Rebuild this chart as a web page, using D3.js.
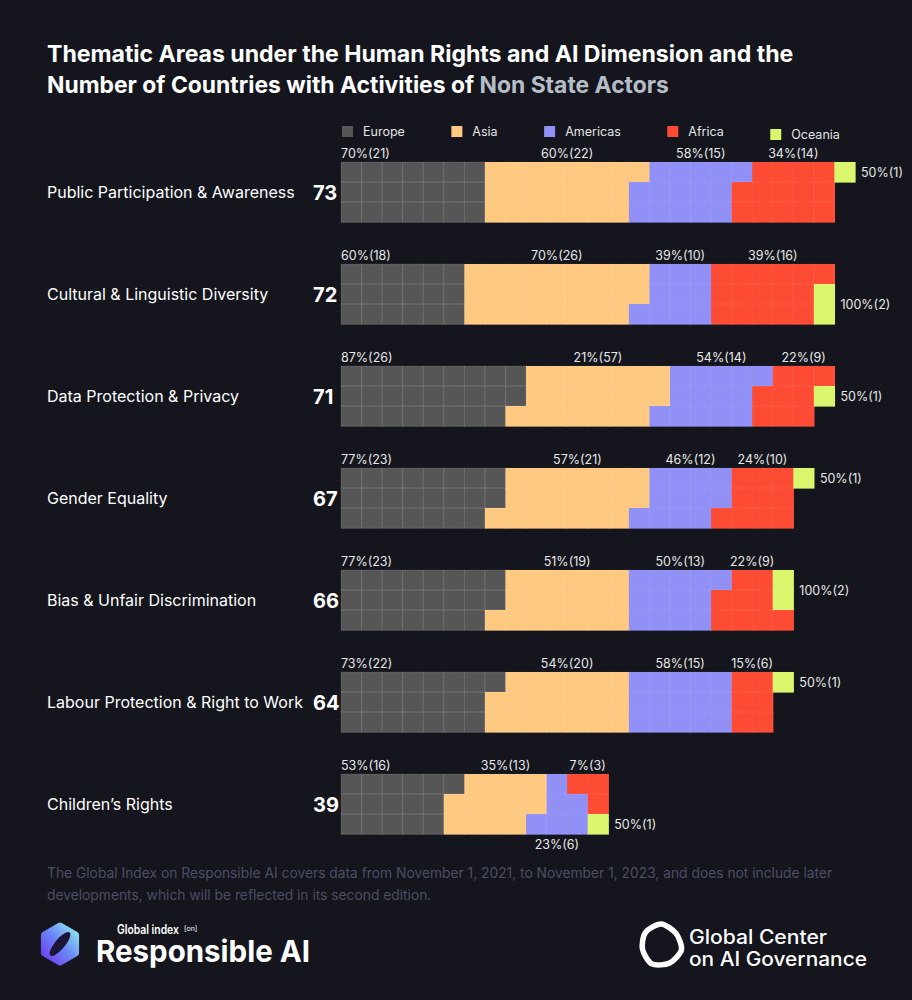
<!DOCTYPE html>
<html>
<head>
<meta charset="utf-8">
<script src="https://cdn.jsdelivr.net/npm/d3@7"></script>
<style>
  html, body { margin: 0; padding: 0; background: #14151d; }
  svg { display: block; font-family: Inter, "Noto Sans", sans-serif; }
</style>
</head>
<body>
<div id="chart"></div>
<script>
// Thematic areas (one waffle bar each) and the total number of countries
const themes = [
    "Public Participation & Awareness",
    "Cultural & Linguistic Diversity",
    "Data Protection & Privacy",
    "Gender Equality",
    "Bias & Unfair Discrimination",
    "Labour Protection & Right to Work",
    "Children’s Rights"
];
const totals = [73, 72, 71, 67, 66, 64, 39];

const regions = ["Europe", "Asia", "Americas", "Africa", "Oceania"];
const regionColors = ["#565656", "#ffc982", "#9090f6", "#fd4b34", "#d9f66d"];

// Number of countries per region, in theme order
const europe   = [21, 18, 26, 23, 23, 22, 16];
const asia     = [22, 26, 21, 21, 19, 20, 13];
const americas = [15, 10, 14, 12, 13, 15, 6];
const africa   = [14, 16, 9, 10, 9, 6, 3];
const oceania  = [1, 2, 1, 1, 2, 1, 1];

// Share of the region's countries, in theme order
const europePct   = [70, 60, 87, 77, 77, 73, 53];
const asiaPct     = [60, 70, 57, 57, 51, 54, 35];
const americasPct = [58, 39, 54, 46, 50, 58, 23];
const africaPct   = [34, 39, 22, 24, 22, 15, 7];
const oceaniaPct  = [50, 100, 50, 50, 100, 50, 50];

const counts = [europe, asia, americas, africa, oceania];
const pcts = [europePct, asiaPct, americasPct, africaPct, oceaniaPct];

// the label is printed this way in the original
const labelOverrides = [
    { theme: "Data Protection & Privacy", region: "Asia", text: "21%(57)" }
];

// columns where the original orders the cells differently (top to bottom)
const columnFixes = [
    { theme: "Bias & Unfair Discrimination", col: 21, order: ["Oceania", "Oceania", "Africa"] },
    { theme: "Children’s Rights", col: 11, order: ["Africa", "Americas", "Americas"] }
];

const maxColumns = 25;
const cellRows = 3;

const width = 912;
const height = 1000;

const svg = d3.select("#chart").append("svg")
    .attr("width", width)
    .attr("height", height)
    .attr("viewBox", [0, 0, width, height]);

svg.append("rect").attr("width", width).attr("height", height).attr("fill", "#14151d");

// squeeze a text element horizontally so it spans the given width
function fitWidth(sel, target) {
    const w = sel.node().getComputedTextLength();
    const x = +sel.attr("x"), y = +sel.attr("y");
    sel.attr("x", 0).attr("y", 0)
        .attr("transform", `translate(${x},${y}) scale(${target / w},1)`);
}

// Title
const title = svg.append("g")
    .attr("fill", "#ffffff")
    .attr("font-size", 23)
    .attr("font-weight", 700);

title.append("text")
    .attr("x", 47).attr("y", 62)
    .text("Thematic Areas under the Human Rights and AI Dimension and the")
    .call(fitWidth, 747);

const t2 = title.append("text")
    .attr("x", 47).attr("y", 93);
t2.append("tspan").text("Number of Countries with Activities of ");
t2.append("tspan").attr("fill", "#b5bec7").text("Non State Actors");
t2.call(fitWidth, 622);

// Scales
const x = d3.scaleLinear().domain([0, maxColumns]).range([341, 855]);
const y = d3.scaleBand().domain(themes).range([162, 834]).paddingInner(42 / 102);
const rowY = d3.scaleBand().domain(d3.range(cellRows)).range([0, y.bandwidth()]);
const cellW = x(1) - x(0);

// Legend
const legend = svg.append("g").attr("font-size", 12.5).attr("fill", "#e4e4e4");
let lx = 342;
regions.forEach((r, k) => {
    const dy = k === regions.length - 1 ? 3 : 0;
    legend.append("rect")
        .attr("x", lx).attr("y", 126 + dy)
        .attr("width", 11).attr("height", 11)
        .attr("fill", regionColors[k]);
    const t = legend.append("text")
        .attr("x", lx + 21).attr("y", 136 + dy)
        .text(r);
    lx += 21 + t.node().getComputedTextLength() + 46.5;
});

// Build the cells of one bar: column-major, top to bottom
function buildCells(theme, i) {
    const seq = [];
    regions.forEach((r, k) => {
        for (let j = 0; j < counts[k][i]; j++) seq.push(k);
    });
    const cells = seq.map((k, n) => ({ col: Math.floor(n / cellRows), row: n % cellRows, region: k }));
    columnFixes.filter(f => f.theme === theme).forEach(f => {
        cells.filter(c => c.col === f.col).forEach(c => {
            c.region = regions.indexOf(f.order[c.row]);
        });
    });
    return cells;
}

const rows = svg.append("g")
    .selectAll("g")
    .data(themes)
    .join("g")
    .attr("transform", d => `translate(0,${y(d)})`);

rows.each(function(theme, i) {
    const g = d3.select(this);
    const cells = buildCells(theme, i);

    g.append("text")
        .attr("x", 47)
        .attr("y", y.bandwidth() / 2 + 5.5)
        .attr("font-size", 16)
        .attr("fill", "#ffffff")
        .text(theme);

    g.append("text")
        .attr("x", 313)
        .attr("y", y.bandwidth() / 2 + 8)
        .attr("font-size", 20)
        .attr("font-weight", 700)
        .attr("fill", "#ffffff")
        .text(totals[i]);

    // filled cells first (no seams), then the faint grid on top
    const cellG = g.append("g");
    cellG.selectAll("rect.fill")
        .data(cells)
        .join("rect")
        .attr("class", "fill")
        .attr("x", d => x(d.col))
        .attr("y", d => rowY(d.row))
        .attr("width", cellW + 0.6)
        .attr("height", rowY.bandwidth() + 0.6)
        .attr("fill", d => regionColors[d.region]);
    cellG.selectAll("rect.grid")
        .data(cells)
        .join("rect")
        .attr("class", "grid")
        .attr("x", d => x(d.col))
        .attr("y", d => rowY(d.row))
        .attr("width", cellW)
        .attr("height", rowY.bandwidth())
        .attr("fill", "none")
        .attr("stroke", d => d.region === 0 ? "rgba(255,255,255,0.09)" : "rgba(255,255,255,0.05)")
        .attr("stroke-width", 1);

    const labels = g.append("g").attr("font-size", 12.5).attr("fill", "#e8e8e8");

    regions.forEach((r, k) => {
        const own = cells.filter(c => c.region === k);
        if (!own.length) return;
        const o = labelOverrides.find(l => l.theme === theme && l.region === r);
        const txt = o ? o.text : `${pcts[k][i]}%(${counts[k][i]})`;
        const lab = labels.append("text").text(txt);

        if (k === 0) {
            lab.attr("x", x(0)).attr("y", -4);
        } else if (k === regions.length - 1) {
            const cy = d3.mean(own, c => rowY(c.row) + rowY.bandwidth() / 2);
            lab.attr("x", x(d3.max(own, c => c.col) + 1) + 6).attr("y", cy + 4.5);
        } else {
            const top = own.filter(c => c.row === 0);
            const span = top.length >= 2 ? top : own.filter(c => c.row === cellRows - 1);
            const cx = (x(d3.min(span, c => c.col)) + x(d3.max(span, c => c.col) + 1)) / 2;
            lab.attr("text-anchor", "middle")
                .attr("x", cx)
                .attr("y", top.length >= 2 ? -4 : y.bandwidth() + 15);
        }
    });
});

// Footnote
const note = svg.append("g").attr("font-size", 13.8).attr("fill", "#4b4f64");
note.append("text").attr("x", 47).attr("y", 878)
    .text("The Global Index on Responsible AI covers data from November 1, 2021, to November 1, 2023, and does not include later");
note.append("text").attr("x", 47).attr("y", 900)
    .text("developments, which will be reflected in its second edition.");

// Logo: Global Index on Responsible AI
const defs = svg.append("defs");
const grad = defs.append("linearGradient").attr("id", "hexGrad")
    .attr("x1", "0%").attr("y1", "100%").attr("x2", "100%").attr("y2", "0%");
grad.append("stop").attr("offset", "0%").attr("stop-color", "#6f3cf0");
grad.append("stop").attr("offset", "50%").attr("stop-color", "#6b86f7");
grad.append("stop").attr("offset", "100%").attr("stop-color", "#8ee9ee");

const hexPts = d3.range(6).map(j => {
    const a = (-90 + j * 60) * Math.PI / 180;
    return [60 + 18 * Math.cos(a), 944 + 18 * Math.sin(a)];
});
svg.append("path")
    .attr("d", "M" + hexPts.join("L") + "Z")
    .attr("fill", "url(#hexGrad)")
    .attr("stroke", "url(#hexGrad)")
    .attr("stroke-width", 7)
    .attr("stroke-linejoin", "round");
svg.append("ellipse")
    .attr("cx", 60).attr("cy", 944)
    .attr("rx", 5).attr("ry", 15)
    .attr("transform", "rotate(40,60,944)")
    .attr("fill", "#1d1638");

svg.append("text")
    .attr("x", 117).attr("y", 934)
    .attr("font-size", 12.5).attr("font-weight", 600).attr("fill", "#ffffff")
    .text("Global index")
    .call(fitWidth, 62);
svg.append("text")
    .attr("x", 184).attr("y", 931)
    .attr("font-size", 7).attr("fill", "#ffffff")
    .text("[on]");
svg.append("text")
    .attr("x", 96).attr("y", 962)
    .attr("font-size", 30).attr("font-weight", 700).attr("fill", "#ffffff")
    .text("Responsible AI")
    .call(fitWidth, 214);

// Logo: Global Center on AI Governance
const blobPts = [21, 19, 21, 20, 21, 19, 20].map((r, j) => [j * 2 * Math.PI / 7, r]);
svg.append("path")
    .attr("transform", "translate(661,945)")
    .attr("d", d3.lineRadial().curve(d3.curveCardinalClosed.tension(0.2))(blobPts))
    .attr("fill", "none")
    .attr("stroke", "#ffffff")
    .attr("stroke-width", 5.5);

const gc = svg.append("g").attr("font-size", 19.5).attr("font-weight", 500).attr("fill", "#ffffff");
gc.append("text").attr("x", 689).attr("y", 944).text("Global Center").call(fitWidth, 138);
gc.append("text").attr("x", 689).attr("y", 966).text("on AI Governance").call(fitWidth, 178);
</script>
</body>
</html>
